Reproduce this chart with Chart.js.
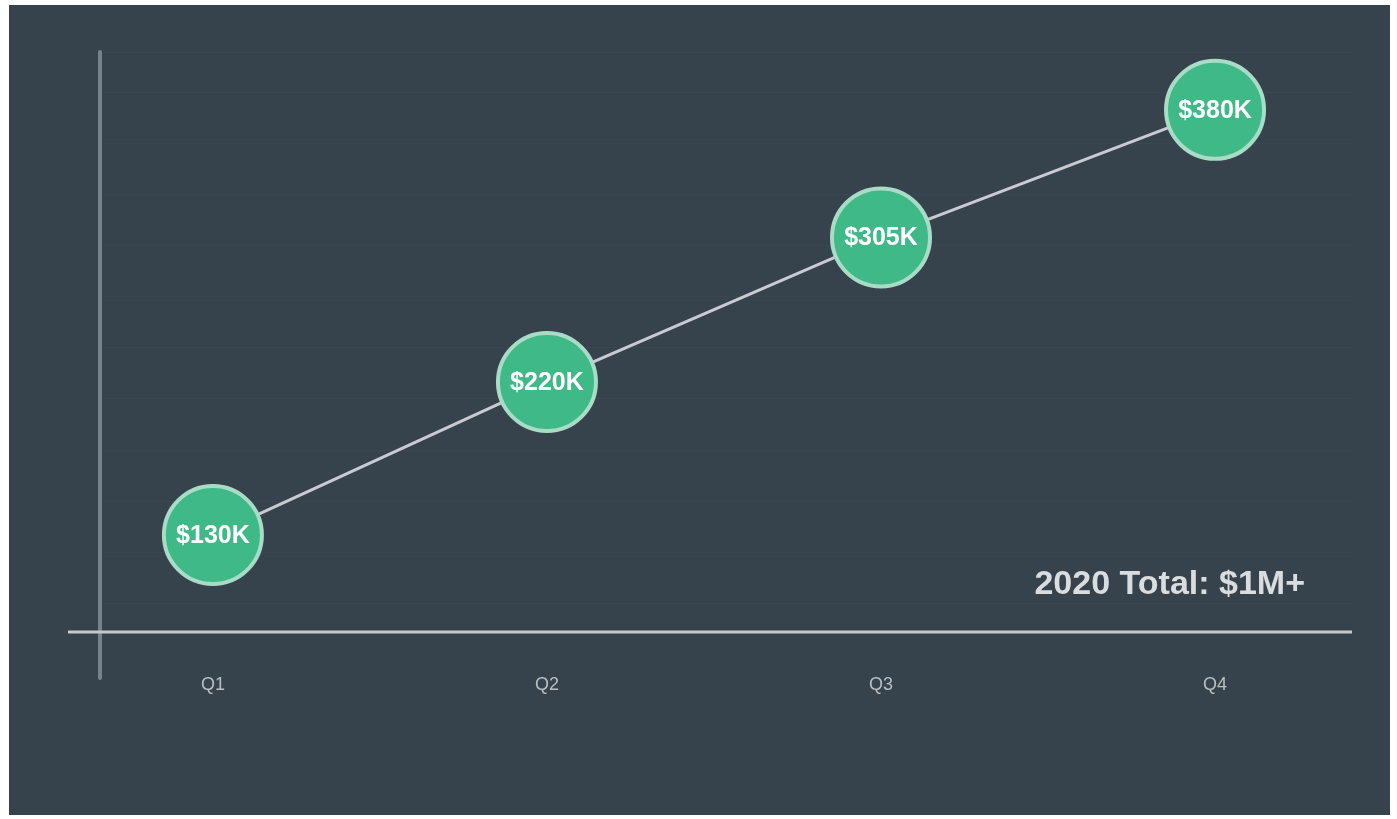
<!DOCTYPE html>
<html>
<head>
<meta charset="utf-8">
<script src="https://cdn.jsdelivr.net/npm/chart.js@4"></script>
<style>
  html, body { margin: 0; padding: 0; background: #ffffff; width: 1397px; height: 819px; overflow: hidden; }
  #wrap { position: absolute; left: 9px; top: 5px; width: 1381px; height: 810px; background: #37434c; }
</style>
</head>
<body>
<div id="wrap"><canvas id="c"></canvas></div>
<script>
const categories = ['Q1', 'Q2', 'Q3', 'Q4'];
const revenueK = [130, 220, 305, 380];
const pointLabels = ['$130K', '$220K', '$305K', '$380K'];
const totalNote = '2020 Total: $1M+';

const FONT = "'Liberation Sans', Arial, sans-serif";

const decor = {
  id: 'decor',
  beforeDatasetsDraw(chart) {
    const { ctx, chartArea: a } = chart;
    ctx.save();
    // vertical axis line (extends below the x axis)
    ctx.strokeStyle = '#76838c';
    ctx.lineWidth = 4;
    ctx.lineCap = 'round';
    ctx.beginPath();
    ctx.moveTo(a.left, a.top);
    ctx.lineTo(a.left, a.bottom + 46);
    ctx.stroke();
    // horizontal axis line (extends left of the y axis)
    ctx.strokeStyle = '#c3c9cd';
    ctx.lineWidth = 3;
    ctx.lineCap = 'butt';
    ctx.beginPath();
    ctx.moveTo(a.left - 32, a.bottom);
    ctx.lineTo(a.right, a.bottom);
    ctx.stroke();
    // total note
    ctx.fillStyle = '#d9dde0';
    ctx.font = 'bold 34px ' + FONT;
    ctx.textAlign = 'right';
    ctx.textBaseline = 'alphabetic';
    ctx.fillText(totalNote, a.right - 47, a.bottom - 38);
    ctx.restore();
  },
  afterDatasetsDraw(chart) {
    const { ctx } = chart;
    const meta = chart.getDatasetMeta(0);
    ctx.save();
    ctx.fillStyle = '#ffffff';
    ctx.font = 'bold 25px ' + FONT;
    ctx.textAlign = 'center';
    ctx.textBaseline = 'middle';
    meta.data.forEach((pt, i) => {
      ctx.fillText(pointLabels[i], pt.x, pt.y + 1);
    });
    ctx.restore();
  }
};

new Chart(document.getElementById('c'), {
  type: 'line',
  data: {
    datasets: [{
      data: revenueK.map((v, i) => ({ x: i, y: v })),
      borderColor: '#c9cad3',
      borderWidth: 3,
      pointRadius: 49,
      pointHoverRadius: 49,
      pointBackgroundColor: '#3fb987',
      pointBorderColor: '#a8dcc6',
      pointBorderWidth: 4,
      tension: 0,
      fill: false
    }]
  },
  options: {
    responsive: true,
    maintainAspectRatio: false,
    animation: false,
    layout: { autoPadding: false, padding: { top: 47, right: 38, left: 0, bottom: 0 } },
    plugins: { legend: { display: false }, tooltip: { enabled: false } },
    scales: {
      x: {
        type: 'linear',
        min: -0.338,
        max: 3.41,
        afterBuildTicks(scale) { scale.ticks = categories.map((_, i) => ({ value: i })); },
        afterFit(scale) { scale.height = 183; },
        grid: { display: false, drawTicks: false },
        border: { display: false },
        ticks: {
          padding: 42,
          color: '#b8bfc4',
          font: { family: FONT, size: 18 },
          callback: (v) => categories[v]
        }
      },
      y: {
        min: 73,
        max: 414,
        afterFit(scale) { scale.width = 91; },
        grid: { color: 'rgba(255,255,255,0.025)', drawTicks: false },
        border: { display: false },
        ticks: { display: false, stepSize: 30 }
      }
    }
  },
  plugins: [decor]
});
</script>
</body>
</html>
